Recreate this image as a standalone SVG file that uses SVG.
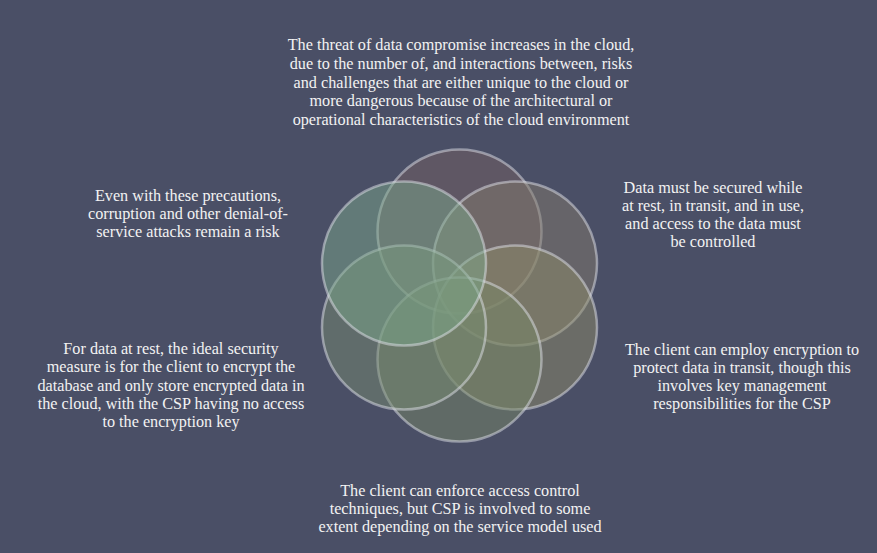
<svg xmlns="http://www.w3.org/2000/svg" width="877" height="553" viewBox="0 0 877 553">
<defs>
<style>
.bg{fill:#4a4f66}
.c{stroke:#dfe2ea;stroke-opacity:0.5;stroke-width:2.5;fill-opacity:0.5}
.t{font-family:"Liberation Serif","Times New Roman",serif;font-size:16.2px;fill:#f2f2f2;text-anchor:middle}
</style>
</defs>
<rect class="bg" x="0" y="0" width="877" height="553"/>
<g id="circles">
<g id="circle-top"><circle class="c" cx="459.5" cy="231.5" r="82" fill="#745f62"/></g>
<g id="circle-upper-right"><circle class="c" cx="515" cy="263.5" r="82" fill="#82796c"/></g>
<g id="circle-lower-right"><circle class="c" cx="515" cy="327.5" r="82" fill="#8c8a68"/></g>
<g id="circle-bottom"><circle class="c" cx="459.5" cy="359.5" r="82" fill="#768566"/></g>
<g id="circle-lower-left"><circle class="c" cx="404" cy="327.5" r="82" fill="#768a70"/></g>
<g id="circle-upper-left"><circle class="c" cx="404" cy="263.5" r="82" fill="#7aa68a" fill-opacity="0.55"/></g>
</g>
<g id="connectors"/>
<g id="text-top">
<text class="t" x="461" y="50">The threat of data compromise increases in the cloud,</text>
<text class="t" x="461" y="69">due to the number of, and interactions between, risks</text>
<text class="t" x="461" y="87.5">and challenges that are either unique to the cloud or</text>
<text class="t" x="461" y="106">more dangerous because of the architectural or</text>
<text class="t" x="461" y="124.5">operational characteristics of the cloud environment</text>
</g>
<g id="text-right-top">
<text class="t" x="713" y="193">Data must be secured while</text>
<text class="t" x="713" y="211">at rest, in transit, and in use,</text>
<text class="t" x="713" y="229">and access to the data must</text>
<text class="t" x="713" y="247">be controlled</text>
</g>
<g id="text-right-bottom">
<text class="t" x="742" y="355">The client can employ encryption to</text>
<text class="t" x="742" y="373">protect data in transit, though this</text>
<text class="t" x="742" y="391">involves key management</text>
<text class="t" x="742" y="409">responsibilities for the CSP</text>
</g>
<g id="text-bottom">
<text class="t" x="460" y="496">The client can enforce access control</text>
<text class="t" x="460" y="514">techniques, but CSP is involved to some</text>
<text class="t" x="460" y="532">extent depending on the service model used</text>
</g>
<g id="text-left-bottom">
<text class="t" x="171" y="354">For data at rest, the ideal security</text>
<text class="t" x="171" y="372">measure is for the client to encrypt the</text>
<text class="t" x="171" y="390.5">database and only store encrypted data in</text>
<text class="t" x="171" y="409">the cloud, with the CSP having no access</text>
<text class="t" x="171" y="427">to the encryption key</text>
</g>
<g id="text-left-top">
<text class="t" x="188" y="201">Even with these precautions,</text>
<text class="t" x="188" y="219">corruption and other denial-of-</text>
<text class="t" x="188" y="237">service attacks remain a risk</text>
</g>
</svg>
